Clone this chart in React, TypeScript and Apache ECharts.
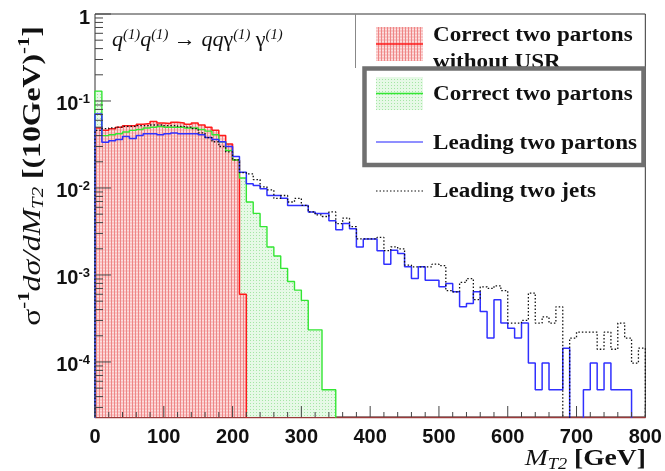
import React, { useEffect, useRef } from "react";
import * as echarts from "echarts";

// Histogram binning (GeV)
const BIN_WIDTH = 10;
const X_MIN = 0;
const X_MAX = 800;
const Y_MIN = 2.33e-5;
const Y_MAX = 1;
const FLOOR = 1e-7; // empty bins drop below the visible range

const X_MAJOR_TICKS = [0, 100, 200, 300, 400, 500, 600, 700, 800];
const X_MINOR_STEP = 20;
const Y_DECADES = [-5, -4, -3, -2, -1, 0];

// Normalised M_T2 distributions per 10 GeV bin, starting at 0 GeV
const correctNoUSR = [
  0.049, 0.046, 0.048, 0.05, 0.052, 0.052, 0.054, 0.055, 0.058, 0.056,
  0.055, 0.057, 0.056, 0.054, 0.056, 0.053, 0.05, 0.046, 0.04, 0.032,
  0.021, 0.0006,
];

const correctPartons = [
  0.13, 0.04, 0.041, 0.042, 0.044, 0.046, 0.047, 0.049, 0.05, 0.051,
  0.05, 0.05, 0.05, 0.049, 0.049, 0.047, 0.045, 0.041, 0.034, 0.027,
  0.021, 0.013, 0.0069, 0.0051, 0.0036, 0.0021, 0.00165, 0.00119, 0.00084, 0.00067,
  0.00051, 0.000234, 0.000234, 0.000048, 0.000048,
];

const leadingPartons = [
  0.071, 0.0335, 0.035, 0.036, 0.039, 0.037, 0.04, 0.042, 0.042, 0.041,
  0.042, 0.043, 0.042, 0.042, 0.042, 0.041, 0.038, 0.036, 0.034, 0.03,
  0.023, 0.0152, 0.0112, 0.0107, 0.0098, 0.0082, 0.0082, 0.0076, 0.0063, 0.0063,
  0.0063, 0.0053, 0.0051, 0.0051, 0.0042, 0.0033, 0.0039, 0.0034, 0.0021, 0.0026,
  0.0026, 0.0019, 0.00133, 0.00193, 0.00177, 0.00124, 0.00091, 0.00124, 0.00087, 0.00087,
  0.00073, 0.0008, 0.00064, 0.00043, 0.00047, 0.00064, 0.00038, 0.000188, 0.00052, 0.00028,
  0.000244, 0.000188, 0.00028, 0.000097, 0.000048, 0.000097, 0.000048, 0.000048, 0.000144, 0,
  0, 0.000048, 0.000097, 0.000048, 0.000097, 0.000048, 0.000048, 0.000048, 0, 0,
];

const leadingJets = [
  0.046, 0.048, 0.049, 0.05, 0.051, 0.051, 0.052, 0.052, 0.053, 0.053,
  0.052, 0.052, 0.051, 0.05, 0.048, 0.043, 0.038, 0.034, 0.03, 0.026,
  0.021, 0.015, 0.0145, 0.0125, 0.0103, 0.0095, 0.0076, 0.0082, 0.0069, 0.0076,
  0.0063, 0.0053, 0.0049, 0.0047, 0.0053, 0.0039, 0.0045, 0.0036, 0.0026, 0.0026,
  0.0026, 0.0027, 0.0019, 0.0021, 0.002, 0.0013, 0.00124, 0.00124, 0.00124, 0.00133,
  0.00128, 0.00066, 0.00064, 0.00082, 0.00091, 0.00052, 0.00073, 0.0007, 0.00075, 0.00066,
  0.00028, 0.00028, 0.0003, 0.00062, 0.00028, 0.00033, 0.00028, 0.00043, 0, 0.000188,
  0.00022, 0.00022, 0.00022, 0.00014, 0.00022, 0.00014, 0.00028, 0.000188, 0.000097, 0.000144,
];

const LEGEND_LABELS = [
  "Correct two partons",
  "without USR",
  "Correct two partons",
  "Leading two partons",
  "Leading two jets",
];

const RED = "#ff1a1a";
const GREEN = "#33e633";
const BLUE = "#3030ff";
const BLACK = "#111111";

// Step outline of a histogram, closed down to the floor at both ends
function histPoints(values: number[]): [number, number][] {
  const pts: [number, number][] = [[X_MIN, FLOOR]];
  values.forEach((v, k) => {
    const y = v > 0 ? v : FLOOR;
    pts.push([k * BIN_WIDTH, y], [(k + 1) * BIN_WIDTH, y]);
  });
  pts.push([values.length * BIN_WIDTH, FLOOR]);
  return pts;
}

function tile(size: number, paint: (g: CanvasRenderingContext2D) => void) {
  const c = document.createElement("canvas");
  c.width = size;
  c.height = size;
  const g = c.getContext("2d")!;
  paint(g);
  return c;
}

export default function App() {
  const ref = useRef<HTMLDivElement>(null);

  useEffect(() => {
    document.body.style.margin = "0";
    const chart = echarts.init(ref.current!, null, { renderer: "svg" });

    const redTile = tile(3, (g) => {
      g.fillStyle = "#f9c4c4";
      g.fillRect(0, 0, 3, 3);
      g.fillStyle = "#ee8686";
      g.fillRect(0, 0, 1, 3);
      g.fillStyle = "#fcdede";
      g.fillRect(1, 2, 2, 1);
    });
    const greenTile = tile(3, (g) => {
      g.fillStyle = "#e6f9e6";
      g.fillRect(0, 0, 3, 3);
      g.fillStyle = "#a4e6a4";
      g.fillRect(1, 1, 1, 1);
    });
    const redFill: any = { image: redTile, repeat: "repeat" };
    const greenFill: any = { image: greenTile, repeat: "repeat" };

    // axis decoration: ROOT-style inward ticks
    const tickData: number[][] = [];
    X_MAJOR_TICKS.forEach((x) => tickData.push([x, Y_MIN, 0, 1]));
    for (let x = X_MIN; x <= X_MAX; x += X_MINOR_STEP) {
      if (x % 100 !== 0) tickData.push([x, Y_MIN, 0, 0]);
    }
    Y_DECADES.forEach((e) => {
      const base = Math.pow(10, e);
      if (base >= Y_MIN && base <= Y_MAX) tickData.push([X_MIN, base, 1, 1]);
      for (let m = 2; m <= 9; m++) {
        const v = m * base;
        if (v > Y_MIN && v < Y_MAX) tickData.push([X_MIN, v, 1, 0]);
      }
    });

    const serif = "Liberation Serif";
    const sans = "Liberation Sans";
    const legendText = (text: string, x: number, y: number) => ({
      type: "text",
      x,
      y,
      scaleX: 1.05,
      z: 20,
      style: {
        text,
        font: `bold 22px "${serif}"`,
        fill: "#111",
        align: "left",
        verticalAlign: "middle",
      },
    });

    // filled histograms are drawn first, outlines on top of every fill
    const fillSeries = (name: string, values: number[], fill: any, z: number) => ({
      name,
      type: "line",
      data: histPoints(values),
      symbol: "none",
      z,
      lineStyle: { width: 0, opacity: 0 },
      areaStyle: { color: fill, origin: "start", opacity: 1 },
    });
    const outlineSeries = (name: string, values: number[], lineStyle: any, z: number) => ({
      name,
      type: "line",
      data: histPoints(values),
      symbol: "none",
      z,
      lineStyle,
    });

    const option: any = {
      animation: false,
      grid: {
        left: 95,
        right: 18,
        top: 14,
        bottom: 54,
        show: true,
        borderColor: "#333",
        borderWidth: 1,
        backgroundColor: "#fff",
      },
      xAxis: {
        type: "value",
        min: X_MIN,
        max: X_MAX,
        interval: 100,
        axisLine: { show: true, onZero: false, lineStyle: { color: "#9a3a3a", width: 1.3 } },
        axisTick: { show: false },
        splitLine: { show: false },
        axisLabel: {
          margin: 9,
          fontFamily: sans,
          fontWeight: "bold",
          fontSize: 20,
          color: "#111",
        },
      },
      yAxis: {
        type: "log",
        logBase: 10,
        min: Y_MIN,
        max: Y_MAX,
        axisLine: { show: false },
        axisTick: { show: false },
        splitLine: { show: false },
        axisLabel: {
          showMinLabel: false,
          margin: 5,
          padding: [5, 0, 0, 0],
          formatter: (v: number) => {
            const e = Math.round(Math.log10(v));
            return e === 0 ? "{b|1}" : `{b|10}{s|${e}}`;
          },
          rich: {
            b: { fontFamily: sans, fontWeight: "bold", fontSize: 20, color: "#111" },
            s: {
              fontFamily: sans,
              fontWeight: "bold",
              fontSize: 13,
              color: "#111",
              padding: [0, 0, 9, 0],
            },
          },
        },
      },
      series: [
        fillSeries("Correct two partons", correctPartons, greenFill, 1),
        fillSeries("Correct two partons without USR", correctNoUSR, redFill, 2),
        outlineSeries("Correct two partons without USR", correctNoUSR, { color: RED, width: 1.5 }, 3),
        outlineSeries("Correct two partons", correctPartons, { color: GREEN, width: 1.4 }, 3),
        outlineSeries("Leading two partons", leadingPartons, { color: BLUE, width: 1.5 }, 4),
        outlineSeries(
          "Leading two jets",
          leadingJets,
          { color: BLACK, width: 1.3, type: [1.5, 2] },
          5
        ),
        {
          type: "custom",
          silent: true,
          z: 6,
          dimensions: ["x", "y", "axis", "major"],
          encode: { x: 0, y: 1 },
          data: tickData,
          renderItem: (_p: any, api: any) => {
            const pt = api.coord([api.value(0), api.value(1)]);
            const isY = api.value(2) === 1;
            const major = api.value(3) === 1;
            const len = isY ? (major ? 16 : 8) : major ? 11 : 5;
            return {
              type: "line",
              shape: isY
                ? { x1: pt[0], y1: pt[1], x2: pt[0] + len, y2: pt[1] }
                : { x1: pt[0], y1: pt[1], x2: pt[0], y2: pt[1] - len },
              style: { stroke: "#444", lineWidth: 1 },
            };
          },
        },
      ],
      graphic: [
        // process label
        {
          type: "text",
          x: 112,
          y: 40,
          z: 20,
          scaleX: 1.05,
          style: {
            text: "{i|q}{s|(1)}{i|q}{s|(1)}{n| → }{i|qq}{n|γ}{s|(1)}{n| γ}{s|(1)}",
            align: "left",
            verticalAlign: "middle",
            rich: {
              i: { font: `italic 21px "${serif}"`, fill: "#111", padding: [0, 0, 1, 0] },
              n: { font: `21px "${serif}"`, fill: "#111", padding: [0, 0, 1, 0] },
              s: { font: `italic 14px "${serif}"`, fill: "#111", padding: [0, 0, 11, 0] },
            },
          },
        },
        // y-axis title
        {
          type: "text",
          x: 31,
          y: 176,
          rotation: Math.PI / 2,
          scaleX: 1.22,
          z: 20,
          style: {
            text: "{n|σ}{p|-1}{i|dσ/dM}{u|T2}{b| [(10GeV)}{p|-1}{b|]}",
            align: "center",
            verticalAlign: "middle",
            rich: {
              n: { font: `26px "${serif}"`, fill: "#111" },
              i: { font: `italic 26px "${serif}"`, fill: "#111" },
              b: { font: `bold 26px "${serif}"`, fill: "#111" },
              p: { font: `bold 17px "${serif}"`, fill: "#111", padding: [0, 0, 16, 0] },
              u: { font: `italic 17px "${serif}"`, fill: "#111", padding: [12, 0, 0, 0] },
            },
          },
        },
        // x-axis title
        {
          type: "text",
          x: 646,
          y: 457,
          scaleX: 1.15,
          z: 20,
          style: {
            text: "{i|M}{u|T2}{b| [GeV]}",
            align: "right",
            verticalAlign: "middle",
            rich: {
              i: { font: `italic 24px "${serif}"`, fill: "#111" },
              b: { font: `bold 24px "${serif}"`, fill: "#111" },
              u: { font: `italic 16px "${serif}"`, fill: "#111", padding: [13, 0, 0, 0] },
            },
          },
        },
        // legend frame edge
        {
          type: "line",
          z: 10,
          shape: { x1: 355.5, y1: 14, x2: 355.5, y2: 68 },
          style: { stroke: "#888", lineWidth: 1 },
        },
        // legend entry: correct two partons without USR
        {
          type: "rect",
          z: 10,
          shape: { x: 376, y: 27, width: 47, height: 34 },
          style: { fill: redFill },
        },
        {
          type: "line",
          z: 11,
          shape: { x1: 376, y1: 44, x2: 423, y2: 44 },
          style: { stroke: RED, lineWidth: 1.5 },
        },
        legendText(LEGEND_LABELS[0], 433, 34),
        legendText(LEGEND_LABELS[1], 433, 61),
        // highlight box around the parton-level entries
        {
          type: "rect",
          z: 30,
          shape: { x: 364.5, y: 68.5, width: 279, height: 96.5 },
          style: { fill: "#fff", stroke: "#707070", lineWidth: 4.5 },
        },
        {
          type: "rect",
          z: 31,
          shape: { x: 376, y: 77, width: 47, height: 33 },
          style: { fill: greenFill },
        },
        {
          type: "line",
          z: 32,
          shape: { x1: 376, y1: 93.5, x2: 423, y2: 93.5 },
          style: { stroke: GREEN, lineWidth: 1.4 },
        },
        { ...legendText(LEGEND_LABELS[2], 433, 93), z: 32 },
        {
          type: "line",
          z: 32,
          shape: { x1: 376, y1: 142, x2: 423, y2: 142 },
          style: { stroke: "#6a6aff", lineWidth: 1.5 },
        },
        { ...legendText(LEGEND_LABELS[3], 433, 142), z: 32 },
        // legend entry: leading two jets
        {
          type: "line",
          z: 10,
          shape: { x1: 376, y1: 191, x2: 423, y2: 191 },
          style: { stroke: BLACK, lineWidth: 1.2, lineDash: [1.5, 2] },
        },
        legendText(LEGEND_LABELS[4], 433, 190),
      ],
    };

    chart.setOption(option);
    return () => chart.dispose();
  }, []);

  return (
    <div
      ref={ref}
      style={{ position: "fixed", left: 0, top: 0, width: 665, height: 471 }}
    />
  );
}
